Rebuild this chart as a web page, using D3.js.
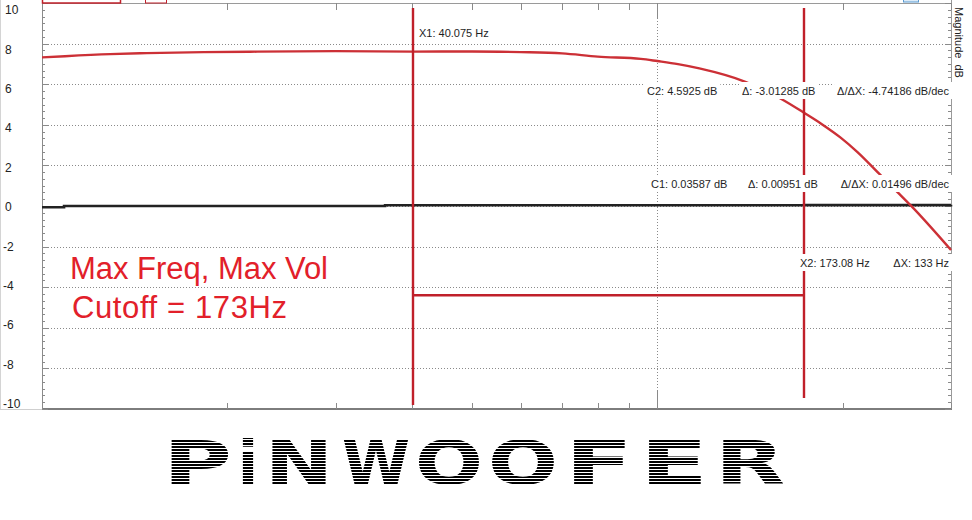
<!DOCTYPE html>
<html><head><meta charset="utf-8">
<script src="https://cdn.jsdelivr.net/npm/d3@7"></script>
<style>html,body{margin:0;padding:0;background:#fff;overflow:hidden}svg{display:block}</style>
</head><body><svg id="c" width="972" height="520"></svg>
<script>
// ---- data ----
const freqRed = [10, 10.9, 12.9, 14.8, 18.3, 21.8, 30, 40.075, 50, 60, 70, 80, 94, 100, 108, 117, 139, 159, 173.08, 185.3, 198.5, 211.2, 230.5, 245.3, 257.8, 300];
const dbRed   = [7.32, 7.38, 7.48, 7.53, 7.58, 7.60, 7.63, 7.605, 7.61, 7.58, 7.52, 7.36, 7.25, 7.14, 6.99, 6.78, 6.12, 5.27, 4.5925, 4.02, 3.37, 2.67, 1.52, 0.70, 0.04, -2.17];
const freqBlack = [10, 10.86, 36.1, 173.08, 300];
const dbBlack   = [-0.06, 0.0, 0.036, 0.045, 0.06];
const yTickValues = [10, 8, 6, 4, 2, 0, -2, -4, -6, -8, -10];
const xMinorTicks = [20, 30, 40, 50, 60, 70, 80, 90, 200, 300];
const xMajorTicks = [10, 100];
const cursorX1 = 40.075, cursorX2 = 173.08, bracketDb = -4.4;
const rowC2 = ["C2: 4.5925 dB", "Δ: -3.01285 dB", "Δ/ΔX: -4.74186 dB/dec"];
const rowC1 = ["C1: 0.03587 dB", "Δ: 0.00951 dB", "Δ/ΔX: 0.01496 dB/dec"];
const rowX2 = ["X2: 173.08 Hz", "ΔX: 133 Hz"];
const labelX1 = "X1: 40.075 Hz";
const noteLines = ["Max Freq, Max Vol", "Cutoff = 173Hz"];
const yAxisTitle = "Magnitude  dB";
const logoLetters = ["P", "i", "N", "W", "O", "O", "F", "E", "R"];

// ---- drawing ----
const svg = d3.select('#c');
const x = d3.scaleLog().domain([10, 300]).range([42, 951]);
const y = d3.scaleLinear().domain([-10, 10]).range([409, 3]);
const yLab = d3.scaleLinear().domain([-10, 10]).range([404, 10]);
const px = v => Math.round(v) + 0.5;

svg.append('rect').attr('width', 972).attr('height', 520).attr('fill', '#fff');

// left label area frame
svg.append('line').attr('x1', 0.5).attr('x2', 0.5).attr('y1', 0).attr('y2', 410).attr('stroke', '#d4d4d4');
svg.append('line').attr('x1', 0).attr('x2', 42).attr('y1', 409.5).attr('y2', 409.5).attr('stroke', '#cfcfcf');

// horizontal dotted grid
svg.append('g').selectAll('line').data(yTickValues.filter(v => Math.abs(v) < 10)).join('line')
  .attr('x1', 42).attr('x2', 951).attr('y1', d => px(y(d))).attr('y2', d => px(y(d)))
  .attr('stroke', '#8a8a8a').attr('stroke-dasharray', '1,2');
// vertical dotted grid at decade
svg.append('line').attr('x1', px(x(100))).attr('x2', px(x(100))).attr('y1', 3).attr('y2', 409)
  .attr('stroke', '#8a8a8a').attr('stroke-dasharray', '1,2');

// axis frame
svg.append('line').attr('x1', 42).attr('x2', 952).attr('y1', 3.5).attr('y2', 3.5).attr('stroke', '#9a9a9a');
svg.append('line').attr('x1', 42.5).attr('x2', 42.5).attr('y1', 3).attr('y2', 409).attr('stroke', '#8a8a8a');
svg.append('line').attr('x1', 951.5).attr('x2', 951.5).attr('y1', 0).attr('y2', 410).attr('stroke', '#9a9a9a');
svg.append('line').attr('x1', 42).attr('x2', 952).attr('y1', 409).attr('y2', 409).attr('stroke', '#7d7d7d').attr('stroke-width', 2);

// y minor/major ticks (left and right)
const yTicksFine = d3.range(0, 61).map(i => -10 + i / 3);
const isMajor = v => Math.abs(v - Math.round(v)) < 1e-6 && Math.round(v) % 2 === 0;
const gy = svg.append('g').attr('stroke', '#8a8a8a');
gy.selectAll('.tl').data(yTicksFine).join('line').attr('class', 'tl')
  .attr('x1', 42).attr('x2', d => isMajor(d) ? 48 : 45)
  .attr('y1', d => px(y(d))).attr('y2', d => px(y(d)));
gy.selectAll('.tr').data(yTicksFine).join('line').attr('class', 'tr')
  .attr('x1', 951).attr('x2', d => isMajor(d) ? 945 : 948)
  .attr('y1', d => px(y(d))).attr('y2', d => px(y(d)));

// x ticks (top and bottom)
const gx = svg.append('g').attr('stroke', '#8a8a8a');
gx.selectAll('.xt').data(xMinorTicks).join('line').attr('class', 'xt')
  .attr('x1', d => px(x(d))).attr('x2', d => px(x(d))).attr('y1', 3).attr('y2', 10);
gx.selectAll('.xb').data(xMinorTicks).join('line').attr('class', 'xb')
  .attr('x1', d => px(x(d))).attr('x2', d => px(x(d))).attr('y1', 409).attr('y2', 403);
gx.selectAll('.xT').data(xMajorTicks).join('line').attr('class', 'xT')
  .attr('x1', d => px(x(d))).attr('x2', d => px(x(d))).attr('y1', 3).attr('y2', 19);
gx.selectAll('.xB').data(xMajorTicks).join('line').attr('class', 'xB')
  .attr('x1', d => px(x(d))).attr('x2', d => px(x(d))).attr('y1', 409).attr('y2', 390);

// y tick labels
svg.append('g').selectAll('text').data(yTickValues).join('text')
  .attr('x', d => d < 0 ? 3 : 5).attr('y', d => yLab(d)).attr('dy', '0.35em')
  .attr('font-family', 'Liberation Sans, Arial, sans-serif').attr('font-size', 12).attr('fill', '#222')
  .text(d => d);

// cut-off legend remnants at top
svg.append('rect').attr('x', 42.5).attr('y', -3).attr('width', 78).attr('height', 6).attr('fill', '#fff').attr('stroke', '#c0202a').attr('stroke-width', 1.5);
svg.append('rect').attr('x', 145.5).attr('y', -3).attr('width', 21).attr('height', 6).attr('fill', '#fff').attr('stroke', '#c0202a').attr('stroke-width', 1);
svg.append('rect').attr('x', 903.5).attr('y', -3).attr('width', 15).attr('height', 5).attr('fill', '#dcebf8').attr('stroke', '#5a9ad0').attr('stroke-width', 1);

// curves
const redData = freqRed.map((f, i) => ({f, v: dbRed[i]}));
const blackData = freqBlack.map((f, i) => ({f, v: dbBlack[i]}));
svg.append('path').datum(blackData)
  .attr('d', d3.line().x(d => x(d.f)).y(d => y(d.v)).curve(d3.curveStepAfter))
  .attr('fill', 'none').attr('stroke', '#222').attr('stroke-width', 2.6);
svg.append('path').datum(redData)
  .attr('d', d3.line().x(d => x(d.f)).y(d => y(d.v)).curve(d3.curveMonotoneX))
  .attr('fill', 'none').attr('stroke', '#cc3036').attr('stroke-width', 2.4);

// cursors
const cur = svg.append('g').attr('stroke', '#c0202a').attr('stroke-width', 2.4);
cur.append('line').attr('x1', x(cursorX1)).attr('x2', x(cursorX1)).attr('y1', 8).attr('y2', 405);
cur.append('line').attr('x1', x(cursorX2)).attr('x2', x(cursorX2)).attr('y1', 8).attr('y2', 398);
cur.append('line').attr('x1', x(cursorX1)).attr('x2', x(cursorX2)).attr('y1', y(bracketDb)).attr('y2', y(bracketDb));

// cursor readouts with white backgrounds
const ann = svg.append('g').attr('font-family', 'Liberation Sans, Arial, sans-serif').attr('font-size', 11).attr('fill', '#1e1e1e');
function label(txt, lx, ly, anchor) {
  const g = ann.append('g');
  const t = g.append('text').attr('x', lx).attr('y', ly).attr('text-anchor', anchor || 'start').text(txt);
  const b = t.node().getBBox();
  g.insert('rect', 'text').attr('x', b.x - 3).attr('y', b.y - 3).attr('width', b.width + 6).attr('height', b.height + 5).attr('fill', '#fff');
}
label(labelX1, x(cursorX1) + 6, 37);
label(rowC2[0], 647, 95); label(rowC2[1], 742, 95); label(rowC2[2], 949, 95, 'end');
label(rowC1[0], 651, 188); label(rowC1[1], 748, 188); label(rowC1[2], 949, 188, 'end');
label(rowX2[0], 800, 267); label(rowX2[1], 949, 267, 'end');

// axis title on the right
svg.append('text').attr('transform', 'translate(955,7) rotate(90)')
  .attr('font-family', 'Liberation Sans, Arial, sans-serif').attr('font-size', 11).attr('fill', '#222')
  .attr('xml:space', 'preserve').style('white-space', 'pre').text(yAxisTitle);

// red note
const noteLen = [258, 215];
svg.append('g').selectAll('text').data(noteLines).join('text')
  .attr('x', (d, i) => i === 0 ? 70 : 72).attr('y', (d, i) => i === 0 ? 279 : 318)
  .attr('textLength', (d, i) => noteLen[i]).attr('lengthAdjust', 'spacing')
  .attr('font-family', 'Liberation Sans, Arial, sans-serif').attr('font-size', 31).attr('fill', '#e2202a')
  .text(d => d);

// striped logo
const defs = svg.append('defs');
const pat = defs.append('pattern').attr('id', 'stripes').attr('patternUnits', 'userSpaceOnUse')
  .attr('x', 0).attr('y', 440).attr('width', 6).attr('height', 3);
pat.append('rect').attr('width', 6).attr('height', 3).attr('fill', '#fff');
pat.append('rect').attr('width', 6).attr('height', 2).attr('fill', '#000');
const logoX = [163, 238, 265, 342, 415, 488, 565, 640, 715];
const logoW = [69, 20, 68, 68, 68, 70, 68, 68, 70];
svg.append('g').selectAll('text').data(logoLetters).join('text')
  .attr('x', (d, i) => logoX[i]).attr('y', 484)
  .attr('textLength', (d, i) => logoW[i]).attr('lengthAdjust', 'spacingAndGlyphs')
  .attr('font-family', 'DejaVu Sans, sans-serif').attr('font-weight', 'bold').attr('font-size', 60)
  .attr('fill', 'url(#stripes)')
  .text(d => d);
</script>
</body></html>
